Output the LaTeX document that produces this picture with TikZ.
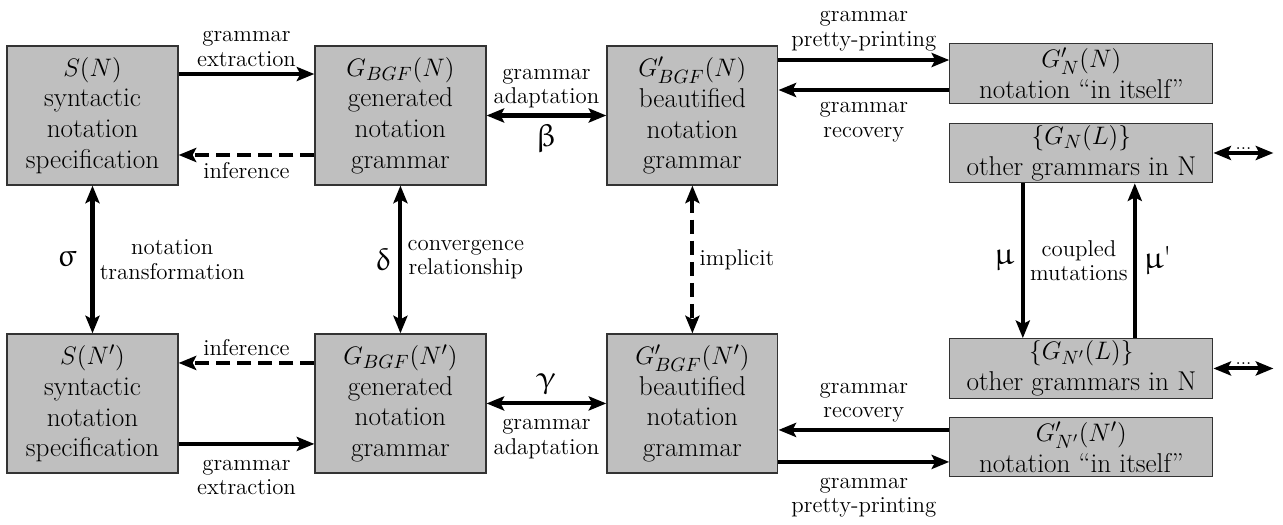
\documentclass[tikz,border=0pt]{standalone}
\usepackage{fontspec}
\usepackage[Euler]{upgreek}
\usetikzlibrary{calc,arrows.meta}

\begin{document}
\begin{tikzpicture}[x=0.02cm, y=-0.02cm, node distance=6.16cm,
    box/.style={rectangle, draw=black!80, fill=black!25, line width=0.7pt, align=center, minimum width=3.42cm, minimum height=2.78cm, inner sep=1pt, font=\fontsize{15.5}{17.5}\selectfont},
    wide/.style={box, minimum width=5.26cm, minimum height=1.19cm},
    lbl/.style={align=center, inner sep=3pt, font=\fontsize{13}{14}\selectfont},
    grk/.style={inner sep=4pt, font=\fontsize{18}{18}\selectfont},
    arr/.style={line width=2.3pt, -{Stealth[length=10pt,width=8pt,inset=2pt]}},
    dbl/.style={line width=2.3pt, {Stealth[length=10pt,width=8pt,inset=2pt]}-{Stealth[length=10pt,width=8pt,inset=2pt]}},
    dsh/.style={dash pattern=on 8pt off 4pt}]

    \useasboundingbox (0,0) rectangle (1283,524);

    % Nodes
    \node[box] (sN) at (92.5,115.5) {$S(N)$\\syntactic\\notation\\specification};
    \node[box, right of=sN] (gN) {$G_{BGF}(N)$\\generated\\notation\\grammar};
    \node[box, node distance=5.84cm, right of=gN] (bN) {$G'_{BGF}(N)$\\beautified\\notation\\grammar};

    \node[box, node distance=5.76cm, below of=sN] (sNp) {$S(N')$\\syntactic\\notation\\specification};
    \node[box, node distance=5.76cm, below of=gN] (gNp) {$G_{BGF}(N')$\\generated\\notation\\grammar};
    \node[box, node distance=5.76cm, below of=bN] (bNp) {$G'_{BGF}(N')$\\beautified\\notation\\grammar};

    \node[wide, node distance=7.78cm, right of=bN, yshift=0.84cm] (iN) {$G'_N(N)$\\notation “in itself”};
    \node[wide, node distance=1.59cm, below of=iN] (oN) {$\{G_N(L)\}$\\other grammars in N};
    \node[wide, node distance=7.78cm, right of=bNp, yshift=0.7cm] (oNp) {$\{G_{N'}(L)\}$\\other grammars in N};
    \node[wide, node distance=1.57cm, below of=oNp] (iNp) {$G'_{N'}(N')$\\notation “in itself”};

    \coordinate (ppT) at ([yshift=0.27cm]iN.west);
    \coordinate (rcT) at ([yshift=-0.33cm]iN.west);
    \coordinate (rcB) at ([yshift=0.34cm]iNp.west);
    \coordinate (ppB) at ([yshift=-0.3cm]iNp.west);
    \coordinate (moreT) at ([xshift=1.2cm]oN.east);
    \coordinate (moreB) at ([xshift=1.2cm]oNp.east);

    % Top row
    \draw[arr] ([yshift=0.83cm]sN.east) -- node[lbl, above] {grammar\\extraction} ([yshift=0.83cm]gN.west);
    \draw[arr, dsh] ([yshift=-0.79cm]gN.west) -- node[lbl, below] {inference} ([yshift=-0.79cm]sN.east);
    \draw[dbl] (gN) -- node[lbl, above] {grammar\\adaptation} node[grk, below] {$\upbeta$} (bN);
    \draw[arr] (bN.east |- ppT) -- node[lbl, above=1pt] {grammar\\pretty-printing} (ppT);
    \draw[arr] (rcT) -- node[lbl, below=3pt] {grammar\\recovery} (bN.east |- rcT);
    \draw[dbl] (oN) -- node[lbl, above, inner sep=1pt, font=\fontsize{11}{11}\selectfont] {...} (moreT);

    % Vertical links
    \draw[dbl] (sN) -- node[grk, left, xshift=-4pt] {$\upsigma$} node[lbl, right] {notation\\transformation} (sNp);
    \draw[dbl] (gN) -- node[grk, left] {$\updelta$} node[lbl, right] {convergence\\relationship} (gNp);
    \draw[dbl, dsh] (bN) -- node[lbl, right] {implicit} (bNp);
    \draw[arr] ([xshift=-1.17cm]oN.south) -- node[grk, left] {$\upmu$} node[lbl, right] {coupled\\mutations} ([xshift=-1.17cm]oNp.north);
    \draw[arr] ([xshift=1.07cm]oNp.north) -- node[grk, right] {$\upmu$\textquotesingle} ([xshift=1.07cm]oN.south);

    % Bottom row
    \draw[arr, dsh] ([yshift=0.81cm]gNp.west) -- node[lbl, above] {inference} ([yshift=0.81cm]sNp.east);
    \draw[arr] ([yshift=-0.81cm]sNp.east) -- node[lbl, below=5pt] {grammar\\extraction} ([yshift=-0.81cm]gNp.west);
    \draw[dbl] (gNp) -- node[grk, above] {$\upgamma$} node[lbl, below=5pt] {grammar\\adaptation} (bNp);
    \draw[arr] (rcB) -- node[lbl, above] {grammar\\recovery} (bNp.east |- rcB);
    \draw[arr] (bNp.east |- ppB) -- node[lbl, below=5pt] {grammar\\pretty-printing} (ppB);
    \draw[dbl] (oNp) -- node[lbl, above, inner sep=1pt, font=\fontsize{11}{11}\selectfont] {...} (moreB);

\end{tikzpicture}
\end{document}
